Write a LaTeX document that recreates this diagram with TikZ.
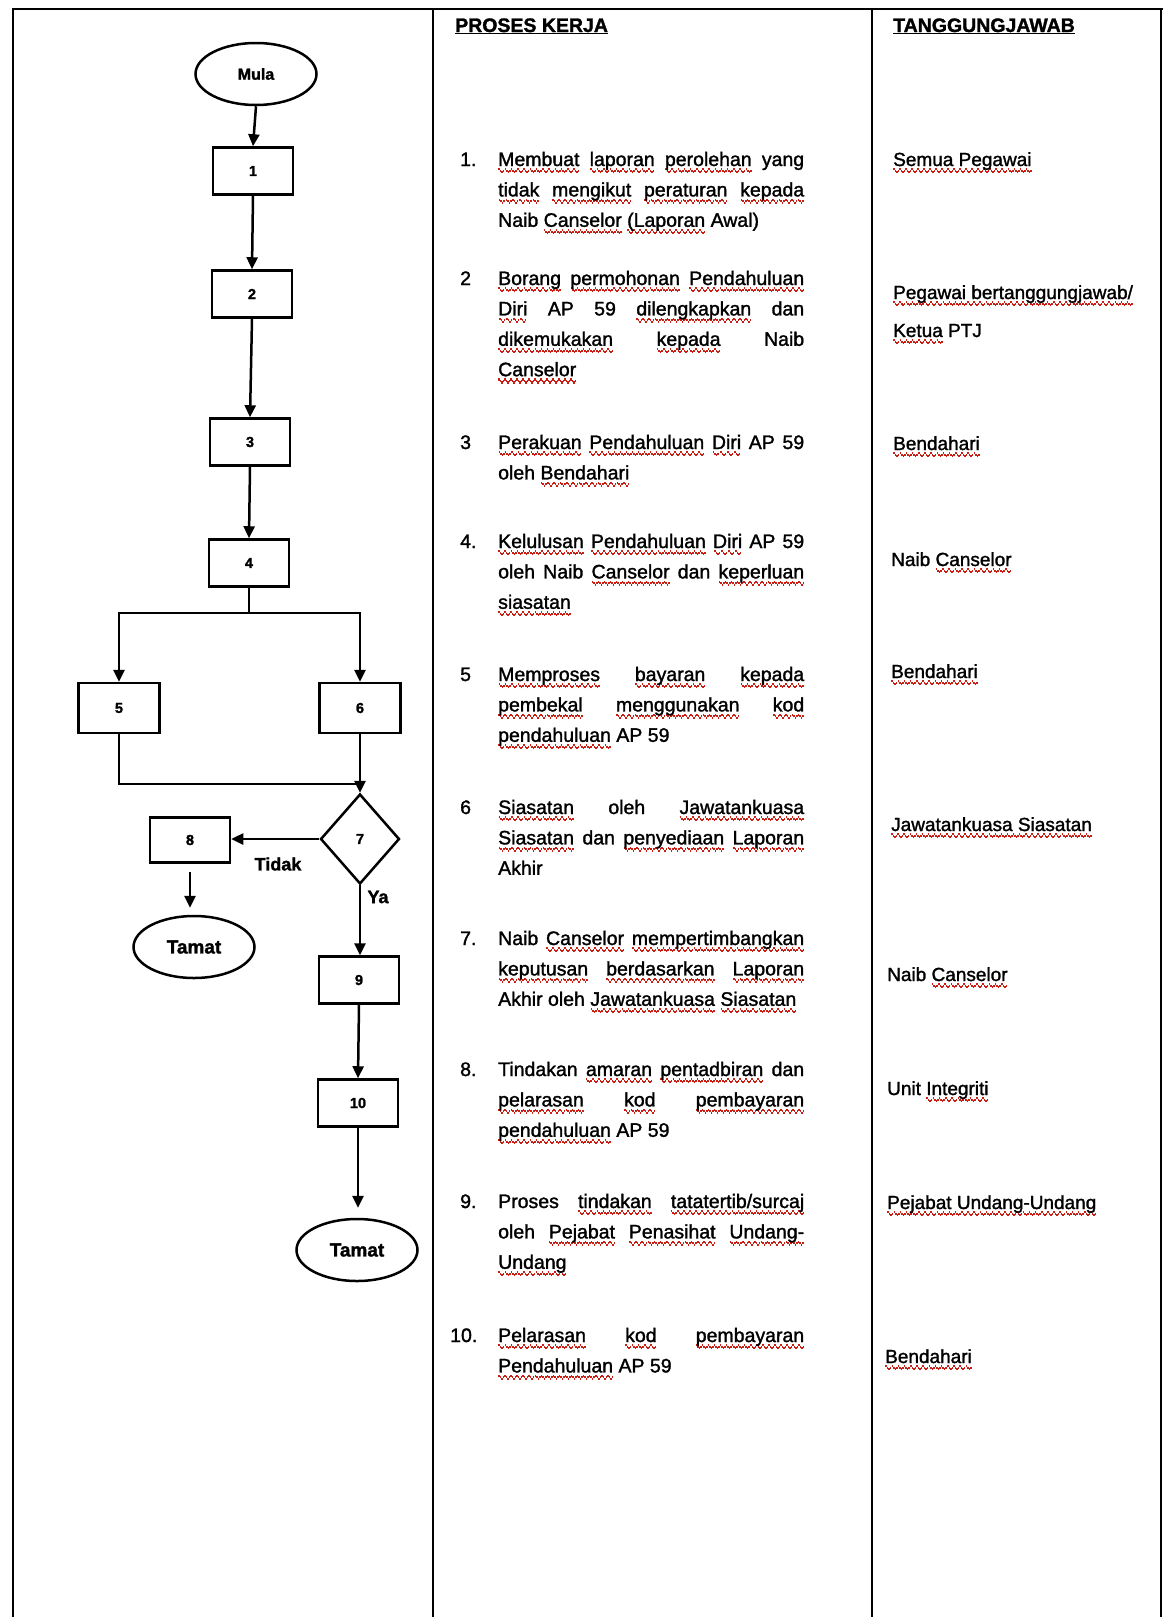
\documentclass[tikz,border=0pt]{standalone}
\usepackage{fontspec}
\setmainfont{Liberation Sans}[RawFeature={embolden=1.5}]
\usetikzlibrary{arrows.meta,shapes.geometric}
\definecolor{sqred}{RGB}{200,30,20}
\newbox\sqbox
\newcommand\sqpat{\hbox{{\color{sqred}\rule[-4.4pt]{1.5pt}{2.2pt}\rule[-5.9pt]{1.5pt}{2.2pt}\rule[-7.4pt]{1.5pt}{2.2pt}\rule[-5.9pt]{1.5pt}{2.2pt}}}}
\newcommand\sq[1]{\leavevmode\setbox\sqbox\hbox{#1}\rlap{\hbox to\wd\sqbox{\xleaders\sqpat\hfill}}\box\sqbox}
\begin{document}
\begin{tikzpicture}[x=1pt,y=-1pt,
  ln/.style={line width=2.5pt},
  arr/.style={line width=2.5pt,-{Triangle[length=12pt,width=11pt]}},
  box/.style={draw,line width=2.5pt,minimum width=80pt,minimum height=47pt,inner sep=0pt,font=\fontsize{14.5}{14.5}\selectfont\bfseries},
  term/.style={draw,ellipse,line width=2.5pt,minimum width=121pt,minimum height=62pt,inner sep=0pt,font=\fontsize{19}{19}\selectfont\bfseries},
  dec/.style={draw,diamond,line width=2.5pt,minimum width=79pt,minimum height=90pt,inner sep=0pt,font=\fontsize{14.5}{14.5}\selectfont\bfseries},
  lbl/.style={inner sep=0pt,font=\fontsize{18}{18}\selectfont\bfseries},
  hdr/.style={anchor=base west,inner sep=0pt,font=\fontsize{19.5}{24}\selectfont\bfseries},
  num/.style={anchor=base west,inner sep=0pt,font=\fontsize{19.5}{30.4}\selectfont},
  txt/.style={anchor=base west,inner sep=0pt,text width=306pt,align=justify,font=\fontsize{19.5}{30.4}\selectfont},
  resp/.style={anchor=base west,inner sep=0pt,font=\fontsize{19}{24}\selectfont}]
\fill[white] (0,0) rectangle (1163,1617);
\useasboundingbox (0,0) rectangle (1163,1617);
% frame and columns
\draw[line width=2.6pt] (13,1617) -- (13,9) -- (1163,9);
\draw[line width=1.6pt] (1161,9) -- (1161,1617);
\draw[line width=2.6pt] (433,9) -- (433,1617);
\draw[line width=2.6pt] (872,9) -- (872,1617);
% headers
\node[hdr] (h1) at (455,32) {\underline{PROSES KERJA}};
\node[hdr] (h2) at (893,32) {\underline{TANGGUNGJAWAB}};
% flowchart
\node[term,font=\fontsize{16}{16}\selectfont\bfseries] (mula) at (256,74) {Mula};
\node[box] (b1) at (253,171) {1};
\node[box] (b2) at (252,294) {2};
\node[box] (b3) at (250,442) {3};
\node[box] (b4) at (249,563) {4};
\node[box,minimum width=81pt,minimum height=50pt] (b5) at (119,708) {5};
\node[box,minimum width=81pt,minimum height=50pt] (b6) at (360,708) {6};
\node[dec] (d7) at (360,839) {7};
\node[box,minimum height=45pt] (b8) at (190,840) {8};
\node[term] (t1) at (194,947) {Tamat};
\node[box] (b9) at (359,980) {9};
\node[box] (b10) at (358,1103) {10};
\node[term] (t2) at (357,1250) {Tamat};
\node[lbl] (tidak) at (278,864) {Tidak};
\node[lbl] (ya) at (378,897) {Ya};
\coordinate (j4) at (249,613);
\coordinate (j7) at (360,784);
\draw[arr] (mula.south) -- (b1.north);
\draw[arr] (b1.south) -- (b2.north);
\draw[arr] (b2.south) -- (b3.north);
\draw[arr] (b3.south) -- (b4.north);
\draw[ln] (b4.south) -- (j4);
\draw[arr] (j4) -| (b5.north);
\draw[arr] (j4) -| (b6.north);
\draw[ln] (b5.south) |- (j7);
\draw[arr] (b6.south) -- (d7.north);
\draw[arr] (d7.west) -- (d7.west -| b8.east);
\draw[arr,shorten <=8pt,shorten >=7pt] (b8.south) -- (b8.south |- t1.north);
\draw[arr] (d7.south) -- (d7.south |- b9.north);
\draw[arr] (b9.south) -- (b10.north);
\draw[arr,shorten >=10pt] (b10.south) -- (b10.south |- t2.north);
% process numbers
\node[num] (n1) at (460,166) {1.};
\node[num] (n2) at (460,285) {2};
\node[num] (n3) at (460,449) {3};
\node[num] (n4) at (460,548) {4.};
\node[num] (n5) at (460,681) {5};
\node[num] (n6) at (460,814) {6};
\node[num] (n7) at (460,945) {7.};
\node[num] (n8) at (460,1076) {8.};
\node[num] (n9) at (460,1208) {9.};
\node[num] (n10) at (450,1342) {10.};
% process texts
\node[txt] (p1) at (498,166) {\sq{Membuat} \sq{laporan} \sq{perolehan} yang\linebreak \sq{tidak} \sq{mengikut} \sq{peraturan} \sq{kepada}\linebreak Naib \sq{Canselor} \sq{(Laporan} Awal)};
\node[txt] (p2) at (498,285) {\sq{Borang} \sq{permohonan} \sq{Pendahuluan}\linebreak \sq{Diri} AP 59 \sq{dilengkapkan} dan\linebreak \sq{dikemukakan} \sq{kepada} Naib\linebreak \sq{Canselor}};
\node[txt] (p3) at (498,449) {\sq{Perakuan} \sq{Pendahuluan} \sq{Diri} AP 59\linebreak oleh \sq{Bendahari}};
\node[txt] (p4) at (498,548) {\sq{Kelulusan} \sq{Pendahuluan} \sq{Diri} AP 59\linebreak oleh Naib \sq{Canselor} dan \sq{keperluan}\linebreak \sq{siasatan}};
\node[txt] (p5) at (498,681) {\sq{Memproses} \sq{bayaran} \sq{kepada}\linebreak \sq{pembekal} \sq{menggunakan} \sq{kod}\linebreak \sq{pendahuluan} AP 59};
\node[txt] (p6) at (498,814) {\sq{Siasatan} oleh \sq{Jawatankuasa}\linebreak \sq{Siasatan} dan \sq{penyediaan} \sq{Laporan}\linebreak Akhir};
\node[txt] (p7) at (498,945) {Naib \sq{Canselor} \sq{mempertimbangkan}\linebreak \sq{keputusan} \sq{berdasarkan} \sq{Laporan}\linebreak Akhir oleh \sq{Jawatankuasa} \sq{Siasatan}};
\node[txt] (p8) at (498,1076) {Tindakan \sq{amaran} \sq{pentadbiran} dan\linebreak \sq{pelarasan} \sq{kod} \sq{pembayaran}\linebreak \sq{pendahuluan} AP 59};
\node[txt] (p9) at (498,1208) {Proses \sq{tindakan} \sq{tatatertib/surcaj}\linebreak oleh \sq{Pejabat} \sq{Penasihat} \sq{Undang-}\linebreak \sq{Undang}};
\node[txt] (p10) at (498,1342) {\sq{Pelarasan} \sq{kod} \sq{pembayaran}\linebreak \sq{Pendahuluan} AP 59};
% responsibilities
\node[resp] (r1) at (893,166) {\sq{Semua Pegawai}};
\node[resp] (r2a) at (893,299) {\sq{Pegawai bertanggungjawab/}};
\node[resp] (r2b) at (893,337) {\sq{Ketua} PTJ};
\node[resp] (r3) at (893,450) {\sq{Bendahari}};
\node[resp] (r4) at (891,566) {Naib \sq{Canselor}};
\node[resp] (r5) at (891,678) {\sq{Bendahari}};
\node[resp] (r6) at (891,831) {\sq{Jawatankuasa Siasatan}};
\node[resp] (r7) at (887,981) {Naib \sq{Canselor}};
\node[resp] (r8) at (887,1095) {Unit \sq{Integriti}};
\node[resp] (r9) at (887,1209) {\sq{Pejabat Undang-Undang}};
\node[resp] (r10) at (885,1363) {\sq{Bendahari}};
\end{tikzpicture}
\end{document}
